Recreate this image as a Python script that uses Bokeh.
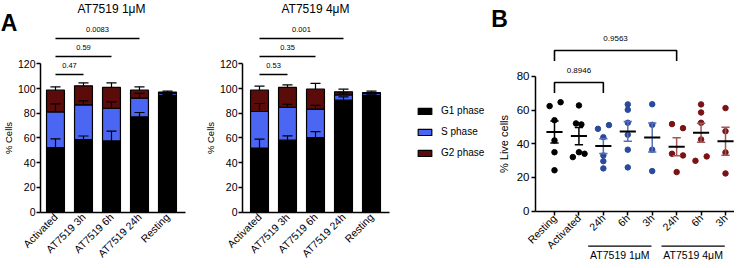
import numpy as np
from bokeh.plotting import figure
from bokeh.layouts import row
from bokeh.models import ColumnDataSource, FixedTicker, Legend, LegendItem, Range1d
from bokeh.core.properties import value
from bokeh.embed import file_html
from bokeh.resources import INLINE

FONT = "Liberation Sans"

# ---------------- Panel A data ----------------
a_categories = ["Activated", "AT7519 3h", "AT7519 6h", "AT7519 24h", "Resting"]
phases = ["G1 phase", "S phase", "G2 phase"]

a1_title = "AT7519 1μM"
a1_g1 = [52.2, 58.7, 57.6, 77.0, 94.5]
a1_s = [28.9, 28.1, 26.3, 15.2, 1.8]
a1_g2 = [17.6, 15.4, 17.0, 6.5, 0.8]
a1_g1_err = [7.0, 2.9, 7.9, 3.6, 0.5]
a1_s_err = [6.5, 3.2, 5.3, 3.8, 0.3]
a1_g2_err = [2.7, 2.4, 3.7, 2.7, 0.8]
a1_pairs = [(0, 1), (0, 2), (0, 3)]
a1_pvalues = ["0.47", "0.59", "0.0083"]

a2_title = "AT7519 4μM"
a2_g1 = [51.9, 58.2, 60.3, 90.6, 94.4]
a2_s = [29.5, 26.5, 23.0, 4.3, 1.6]
a2_g2 = [17.3, 16.2, 16.2, 2.4, 0.8]
a2_g1_err = [7.1, 3.5, 4.9, 2.7, 0.4]
a2_s_err = [6.5, 2.6, 3.0, 1.6, 0.5]
a2_g2_err = [3.3, 2.1, 4.6, 2.2, 1.1]
a2_pairs = [(0, 1), (0, 2), (0, 3)]
a2_pvalues = ["0.53", "0.35", "0.001"]

a_yticks = [0, 20, 40, 60, 80, 100, 120]

# ---------------- Panel B data ----------------
b_categories = ["Resting", "Activated", "24h", "6h", "3h", "24h", "6h", "3h"]
b_values = [
    [62.4, 64.7, 54.0, 42.0, 35.0, 24.3],
    [62.8, 52.1, 51.5, 35.0, 32.1, 34.1],
    [48.9, 51.1, 43.9, 33.1, 29.7, 25.4],
    [63.4, 60.2, 52.5, 45.4, 36.5, 26.0],
    [63.5, 51.3, 36.5, 23.8],
    [51.7, 49.3, 34.1, 33.1, 23.2],
    [63.4, 58.6, 52.5, 42.6, 29.9, 32.5],
    [61.2, 47.5, 34.9, 22.4],
]
b_jitter = [
    [-0.2, 0.25, 0, 0, 0, 0],
    [0, -0.12, 0.1, 0, -0.25, 0.23],
    [-0.22, 0.23, 0, 0, 0, 0],
    [0, 0, 0, 0, 0, 0],
    [0, 0, 0, 0],
    [-0.19, 0.26, -0.19, 0.26, 0],
    [0, 0, 0, 0, -0.23, 0.23],
    [0, 0, 0, 0],
]
b_pairs = [(0, 2), (0, 5)]
b_pvalues = ["0.8946", "0.9563"]
b_group_labels = ["AT7519 1μM", "AT7519 4μM"]
b_group_members = [(2, 4), (5, 7)]
b_yticks = [0, 20, 40, 60, 80]

# ---------------- styles / layout constants ----------------
G1_COLOR = "#000000"
S_COLOR = "#4a66f2"
G2_COLOR = "#5c0b0b"
B_DOT = ["#000000", "#000000", "#2b4a9b", "#2b4a9b", "#2b4a9b", "#7a1315", "#7a1315", "#7a1315"]
B_ERR = ["#000000", "#000000", "#5670b8", "#5670b8", "#5670b8", "#a05858", "#a05858", "#a05858"]

H = 260
# view windows in data space (each figure's frame fills the whole figure)
A_Y_RANGE = (-39.1, 171.2)
A1_X_RANGE = (-1.964, 5.179)
A2_X_RANGE = (-2.107, 8.107)
A1_YAXIS_X = -0.536
A2_YAXIS_X = -0.607
A_XAXIS_END = 4.64
A_SIG_LINE_Y = [111.3, 125.9, 140.5]
A_SIG_TEXT_Y = [118.6, 133.2, 147.7]
A_TITLE_Y = 164.3
A_TITLE_X = 2.0
A_LETTER_XY = (-1.66, 153.4)
LEGEND_LOC = (216, 101)

B_X_RANGE = (-2.783, 7.368)
B_Y_RANGE = (-29.3, 125.1)
B_YAXIS_X = -0.777
B_BRACKET_Y = [76.4, 95.4]
B_BRACKET_DROP = 6.2
B_BRACKET_TEXT_Y = [83.5, 102.6]
B_GROUP_LINE_Y = -20.8
B_GROUP_TEXT_Y = -26.2
B_LETTER_XY = (-2.25, 114.1)


def style_axis_common(ax, font_size):
    ax.axis_line_width = 1.5
    ax.axis_line_color = "black"
    ax.major_tick_line_width = 1.5
    ax.major_tick_line_color = "black"
    ax.minor_tick_line_color = None
    ax.major_label_text_color = "black"
    ax.major_label_text_font = FONT
    ax.major_label_text_font_size = font_size
    ax.axis_label_text_color = "black"
    ax.axis_label_text_font = FONT
    ax.axis_label_text_font_style = "normal"


def base_figure(width, xr, yr):
    p = figure(width=width, height=H, x_range=Range1d(*xr), y_range=Range1d(*yr),
               output_backend="svg", toolbar_location=None,
               min_border_left=0, min_border_right=0, min_border_top=0,
               min_border_bottom=0)
    p.outline_line_color = None
    p.xgrid.visible = False
    p.ygrid.visible = False
    return p


def add_text(p, xs, ys, texts, size, align="center", style="normal"):
    p.text(x=xs, y=ys, text=texts, text_font=value(FONT), text_font_size=size,
           text_align=align, text_baseline="middle", text_color="black",
           text_font_style=style)


def make_panel_a(title, g1, s, g2, e1, es, e2, pairs, pvals, width, xr, yaxis_x,
                 letter=None):
    n = len(a_categories)
    x = np.arange(n, dtype=float)
    t1 = np.array(g1, dtype=float)
    t2 = t1 + np.array(s, dtype=float)
    t3 = t2 + np.array(g2, dtype=float)
    src = ColumnDataSource(dict(
        x=x, xl=x - 0.18, xr=x + 0.18,
        t1=t1, t2=t2, t3=t3,
        e1=t1 + np.array(e1), e2=t2 + np.array(es), e3=t3 + np.array(e2)))

    p = base_figure(width, xr, A_Y_RANGE)

    r1 = p.vbar(x="x", width=0.64, bottom=0, top="t1", source=src,
                fill_color=G1_COLOR, line_color="black", line_width=1.2)
    r2 = p.vbar(x="x", width=0.64, bottom="t1", top="t2", source=src,
                fill_color=S_COLOR, line_color="black", line_width=1.2)
    r3 = p.vbar(x="x", width=0.64, bottom="t2", top="t3", source=src,
                fill_color=G2_COLOR, line_color="black", line_width=1.2)
    for top, err in (("t1", "e1"), ("t2", "e2"), ("t3", "e3")):
        p.segment(x0="x", y0=top, x1="x", y1=err, source=src,
                  line_color="black", line_width=1.2)
        p.segment(x0="xl", y0=err, x1="xr", y1=err, source=src,
                  line_color="black", line_width=1.2)

    p.segment(x0=[float(i) for i, j in pairs], y0=A_SIG_LINE_Y[:len(pairs)],
              x1=[float(j) for i, j in pairs], y1=A_SIG_LINE_Y[:len(pairs)],
              line_color="black", line_width=1.6)
    add_text(p, [(i + j) / 2 for i, j in pairs], A_SIG_TEXT_Y[:len(pairs)], pvals, "7.5px")
    add_text(p, [A_TITLE_X], [A_TITLE_Y], [title], "12px")
    if letter is not None:
        add_text(p, [A_LETTER_XY[0]], [A_LETTER_XY[1]], [letter], "23px", style="bold")

    style_axis_common(p.yaxis[0], "10.5px")
    p.yaxis.fixed_location = yaxis_x
    p.yaxis.ticker = FixedTicker(ticks=a_yticks)
    p.yaxis.bounds = (0, a_yticks[-1])
    p.yaxis.axis_label = "% Cells"
    p.yaxis.axis_label_text_font_size = "9.5px"
    p.yaxis.axis_label_standoff = 1
    p.yaxis.major_label_standoff = 1
    p.yaxis.major_tick_out = 4
    p.yaxis.major_tick_in = 0

    style_axis_common(p.xaxis[0], "10.5px")
    p.xaxis.fixed_location = 0
    p.xaxis.ticker = FixedTicker(ticks=list(range(n)))
    p.xaxis.major_label_overrides = {i: c for i, c in enumerate(a_categories)}
    p.xaxis.major_label_orientation = np.pi / 4
    p.xaxis.major_tick_out = 0
    p.xaxis.major_tick_in = 0
    p.xaxis.major_label_standoff = 3
    p.xaxis.bounds = (yaxis_x, A_XAXIS_END)
    return p, (r1, r2, r3)


pA1, _ = make_panel_a(a1_title, a1_g1, a1_s, a1_g2, a1_g1_err, a1_s_err, a1_g2_err,
                      a1_pairs, a1_pvalues, 200, A1_X_RANGE, A1_YAXIS_X, letter="A")
pA2, rends = make_panel_a(a2_title, a2_g1, a2_s, a2_g2, a2_g1_err, a2_s_err, a2_g2_err,
                          a2_pairs, a2_pvalues, 286, A2_X_RANGE, A2_YAXIS_X)

legend = Legend(items=[LegendItem(label=lab, renderers=[r]) for lab, r in zip(phases, rends)],
                location=LEGEND_LOC, glyph_width=17, glyph_height=8, label_standoff=8,
                spacing=8, label_height=13, padding=0, margin=0,
                border_line_color=None, background_fill_alpha=0,
                label_text_font=FONT, label_text_font_size="10px",
                label_text_color="black")
pA2.add_layout(legend, "center")

# ---------------- Panel B ----------------
pB = base_figure(248, B_X_RANGE, B_Y_RANGE)

dx, dy, dc = [], [], []
mx0, mx1, my, ex, ey0, ey1, ec, cx0, cx1 = [], [], [], [], [], [], [], [], []
for k, vals in enumerate(b_values):
    v = np.array(vals, dtype=float)
    m = v.mean()
    sem = v.std(ddof=1) / np.sqrt(len(v))
    dx += list(k + np.array(b_jitter[k]))
    dy += list(v)
    dc += [B_DOT[k]] * len(v)
    mx0.append(k - 0.33); mx1.append(k + 0.33); my.append(m)
    ex.append(float(k)); ey0.append(m - sem); ey1.append(m + sem); ec.append(B_ERR[k])
    cx0.append(k - 0.17); cx1.append(k + 0.17)

pB.scatter(x=dx, y=dy, size=5.5, fill_color=dc, line_color=dc)
err_src = ColumnDataSource(dict(x=ex, y0=ey0, y1=ey1, c=ec, xl=cx0, xr=cx1))
pB.segment(x0="x", y0="y0", x1="x", y1="y1", source=err_src, line_color="c", line_width=1.5)
pB.segment(x0="xl", y0="y0", x1="xr", y1="y0", source=err_src, line_color="c", line_width=1.5)
pB.segment(x0="xl", y0="y1", x1="xr", y1="y1", source=err_src, line_color="c", line_width=1.5)
pB.segment(x0=mx0, y0=my, x1=mx1, y1=my, line_color="black", line_width=2)

br_xs, br_ys = [], []
for (i, j), yb in zip(b_pairs, B_BRACKET_Y):
    br_xs.append([i, i, j, j])
    br_ys.append([yb - B_BRACKET_DROP, yb, yb, yb - B_BRACKET_DROP])
pB.multi_line(xs=br_xs, ys=br_ys, line_color="black", line_width=1.6)
add_text(pB, [(i + j) / 2 for i, j in b_pairs], B_BRACKET_TEXT_Y, b_pvalues, "8px")

gx0 = [i0 - 0.62 for i0, i1 in b_group_members]
gx1 = [i1 - 0.03 for i0, i1 in b_group_members]
pB.segment(x0=gx0, y0=[B_GROUP_LINE_Y] * len(gx0), x1=gx1, y1=[B_GROUP_LINE_Y] * len(gx0),
           line_color="black", line_width=1.2)
add_text(pB, [(a + b) / 2 for a, b in zip(gx0, gx1)], [B_GROUP_TEXT_Y] * len(gx0),
         b_group_labels, "10.5px")
add_text(pB, [B_LETTER_XY[0]], [B_LETTER_XY[1]], ["B"], "23px", style="bold")

style_axis_common(pB.yaxis[0], "11.5px")
pB.yaxis.fixed_location = B_YAXIS_X
pB.yaxis.ticker = FixedTicker(ticks=b_yticks)
pB.yaxis.bounds = (0, b_yticks[-1])
pB.yaxis.axis_label = "% Live cells"
pB.yaxis.axis_label_text_font_size = "11px"
pB.yaxis.axis_label_standoff = 4
pB.yaxis.major_label_standoff = 2
pB.yaxis.major_tick_out = 4
pB.yaxis.major_tick_in = 0

style_axis_common(pB.xaxis[0], "10.5px")
pB.xaxis.fixed_location = 0
pB.xaxis.ticker = FixedTicker(ticks=list(range(len(b_categories))))
pB.xaxis.major_label_overrides = {i: c for i, c in enumerate(b_categories)}
pB.xaxis.major_label_orientation = np.pi / 4
pB.xaxis.major_tick_out = 4
pB.xaxis.major_tick_in = 0
pB.xaxis.major_label_standoff = 1
pB.xaxis.bounds = (B_YAXIS_X, B_X_RANGE[1])

layout = row(pA1, pA2, pB)
open("out.html", "w").write(file_html(layout, INLINE))
